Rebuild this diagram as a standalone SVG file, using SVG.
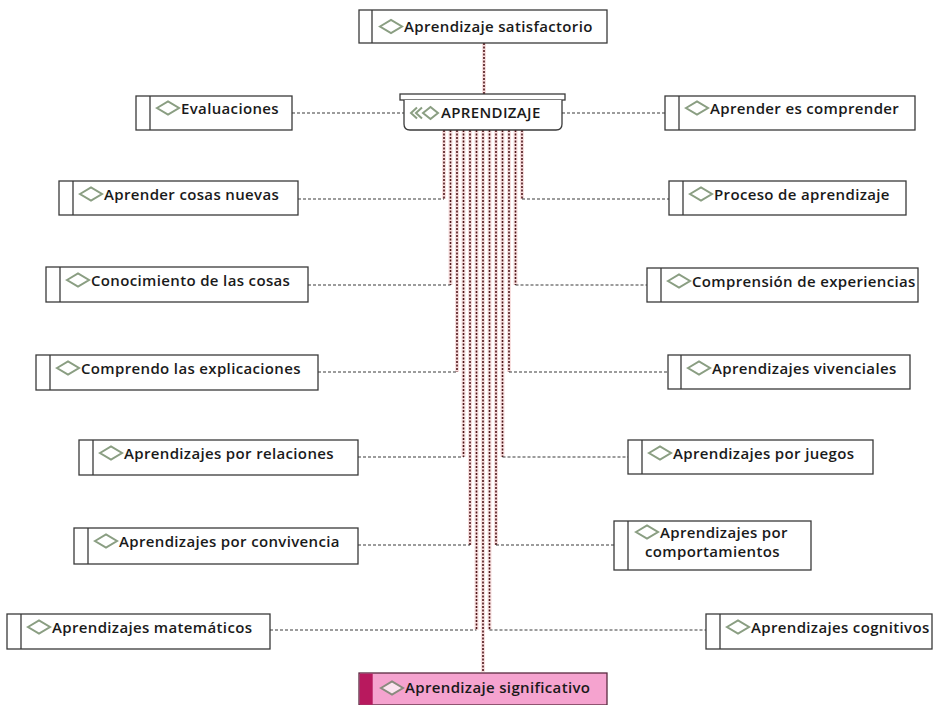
<svg xmlns="http://www.w3.org/2000/svg" width="935" height="705" viewBox="0 0 935 705">
<style>
.box{fill:#fff;stroke:#3a3a3a;stroke-width:1.3}
.div{stroke:#3a3a3a;stroke-width:1.3}
.dia{fill:none;stroke:#8a9e82;stroke-width:2}
.t{font-family:"Open Sans","Liberation Sans",sans-serif;font-size:15px;font-weight:600;letter-spacing:0.35px;fill:#1a1a1a}
.v{fill:none;stroke:#4e1619;stroke-width:1.6;stroke-dasharray:2 1.5}
.vg{fill:none;stroke:#f3c9c9;stroke-width:4;opacity:0.6}
.h{fill:none;stroke:#3a3a3a;stroke-width:1.2;stroke-dasharray:3 2}
</style>
<rect width="935" height="705" fill="#fff"/>
<g id="connectors">
<g id="glow">
<path class="vg" d="M484 43V94M444 130V199M450.5 130V285M457 130V372M463.5 130V457M470 130V545M476.5 130V630M483 130V672M489.5 130V630M496 130V545M502.5 130V457M509 130V372M515.5 130V285M522 130V199"/>
</g>
<path class="v" d="M484 43V94"/>
<path class="h" d="M292 113H404M562 113H665"/>
<path class="v" d="M444 130V199M450.5 130V285M457 130V372M463.5 130V457M470 130V545M476.5 130V630M483 130V672M489.5 130V630M496 130V545M502.5 130V457M509 130V372M515.5 130V285M522 130V199"/>
<path class="h" d="M298 199H444M308 285H450.5M318 372H457M358 457H463.5M358 545H470M270 630H476.5"/>
<path class="h" d="M522 199H669M515.5 285H647M509 372H668M502.5 457H628M496 545H614M489.5 630H706"/>
</g>
<g id="n-satisfactorio">
<rect class="box" x="359" y="10" width="248" height="33"/><line class="div" x1="372" y1="10" x2="372" y2="43"/>
<path class="dia" d="M380 26.5L391 20L402 26.5L391 33Z"/>
<text class="t" x="404" y="31.5">Aprendizaje satisfactorio</text>
</g>
<g id="n-aprendizaje">
<rect class="box" x="400" y="94" width="165" height="6"/>
<path class="box" d="M404 100V124Q404 130 410 130H556Q562 130 562 124V100"/>
<path class="dia" d="M417 107.5L411 113L417 118.5M422 107.5L416 113L422 118.5M423 113L430.5 107L438 113L430.5 119Z"/>
<text class="t" x="441" y="118">APRENDIZAJE</text>
</g>
<g id="n-evaluaciones">
<rect class="box" x="136" y="96" width="156" height="34"/><line class="div" x1="150" y1="96" x2="150" y2="130"/>
<path class="dia" d="M157 108L168 101.5L179 108L168 114.5Z"/>
<text class="t" x="181" y="114">Evaluaciones</text>
</g>
<g id="n-comprender">
<rect class="box" x="665" y="96" width="250" height="34"/><line class="div" x1="679" y1="96" x2="679" y2="130"/>
<path class="dia" d="M686 108L697 101.5L708 108L697 114.5Z"/>
<text class="t" x="710" y="114">Aprender es comprender</text>
</g>
<g id="n-cosasnuevas">
<rect class="box" x="59" y="181" width="239" height="34"/><line class="div" x1="73" y1="181" x2="73" y2="215"/>
<path class="dia" d="M80 194L91 187.5L102 194L91 200.5Z"/>
<text class="t" x="104" y="200">Aprender cosas nuevas</text>
</g>
<g id="n-proceso">
<rect class="box" x="669" y="181" width="237" height="34"/><line class="div" x1="683" y1="181" x2="683" y2="215"/>
<path class="dia" d="M690 194L701 187.5L712 194L701 200.5Z"/>
<text class="t" x="714" y="200">Proceso de aprendizaje</text>
</g>
<g id="n-conocimiento">
<rect class="box" x="46" y="267" width="262" height="35"/><line class="div" x1="60" y1="267" x2="60" y2="302"/>
<path class="dia" d="M67 280L78 273.5L89 280L78 286.5Z"/>
<text class="t" x="91" y="286">Conocimiento de las cosas</text>
</g>
<g id="n-comprension">
<rect class="box" x="647" y="268" width="271" height="34"/><line class="div" x1="661" y1="268" x2="661" y2="302"/>
<path class="dia" d="M668 281L679 274.5L690 281L679 287.5Z"/>
<text class="t" x="692" y="287">Comprensión de experiencias</text>
</g>
<g id="n-comprendo">
<rect class="box" x="36" y="355" width="282" height="35"/><line class="div" x1="50" y1="355" x2="50" y2="390"/>
<path class="dia" d="M57 368L68 361.5L79 368L68 374.5Z"/>
<text class="t" x="81" y="374">Comprendo las explicaciones</text>
</g>
<g id="n-vivenciales">
<rect class="box" x="668" y="355" width="242" height="34"/><line class="div" x1="681" y1="355" x2="681" y2="389"/>
<path class="dia" d="M688 368L699 361.5L710 368L699 374.5Z"/>
<text class="t" x="712" y="374">Aprendizajes vivenciales</text>
</g>
<g id="n-relaciones">
<rect class="box" x="79" y="440" width="279" height="35"/><line class="div" x1="93" y1="440" x2="93" y2="475"/>
<path class="dia" d="M100 453L111 446.5L122 453L111 459.5Z"/>
<text class="t" x="124" y="459">Aprendizajes por relaciones</text>
</g>
<g id="n-juegos">
<rect class="box" x="628" y="440" width="245" height="34"/><line class="div" x1="642" y1="440" x2="642" y2="474"/>
<path class="dia" d="M649 453L660 446.5L671 453L660 459.5Z"/>
<text class="t" x="673" y="459">Aprendizajes por juegos</text>
</g>
<g id="n-convivencia">
<rect class="box" x="74" y="528" width="284" height="36"/><line class="div" x1="88" y1="528" x2="88" y2="564"/>
<path class="dia" d="M95 541L106 534.5L117 541L106 547.5Z"/>
<text class="t" x="119" y="547">Aprendizajes por convivencia</text>
</g>
<g id="n-comportamientos">
<rect class="box" x="614" y="521" width="197" height="49"/><line class="div" x1="628" y1="521" x2="628" y2="570"/>
<path class="dia" d="M636 532L647 525.5L658 532L647 538.5Z"/>
<text class="t" x="660" y="538">Aprendizajes por</text>
<text class="t" x="645" y="557">comportamientos</text>
</g>
<g id="n-matematicos">
<rect class="box" x="7" y="614" width="263" height="35"/><line class="div" x1="21" y1="614" x2="21" y2="649"/>
<path class="dia" d="M28 627L39 620.5L50 627L39 633.5Z"/>
<text class="t" x="52" y="633">Aprendizajes matemáticos</text>
</g>
<g id="n-cognitivos">
<rect class="box" x="706" y="614" width="226" height="35"/><line class="div" x1="720" y1="614" x2="720" y2="649"/>
<path class="dia" d="M727 627L738 620.5L749 627L738 633.5Z"/>
<text class="t" x="751" y="633">Aprendizajes cognitivos</text>
</g>
<g id="n-significativo">
<rect x="359" y="673" width="248" height="32" fill="#f5a3cf" stroke="#5a2a40" stroke-width="1.3"/>
<rect x="359.7" y="673.7" width="13" height="31" fill="#b8195e"/>
<path d="M381 688L392 681.5L403 688L392 694.5Z" fill="#fbe3ef" stroke="#8a8a7e" stroke-width="2"/>
<text class="t" x="405" y="693">Aprendizaje significativo</text>
</g>
</svg>
